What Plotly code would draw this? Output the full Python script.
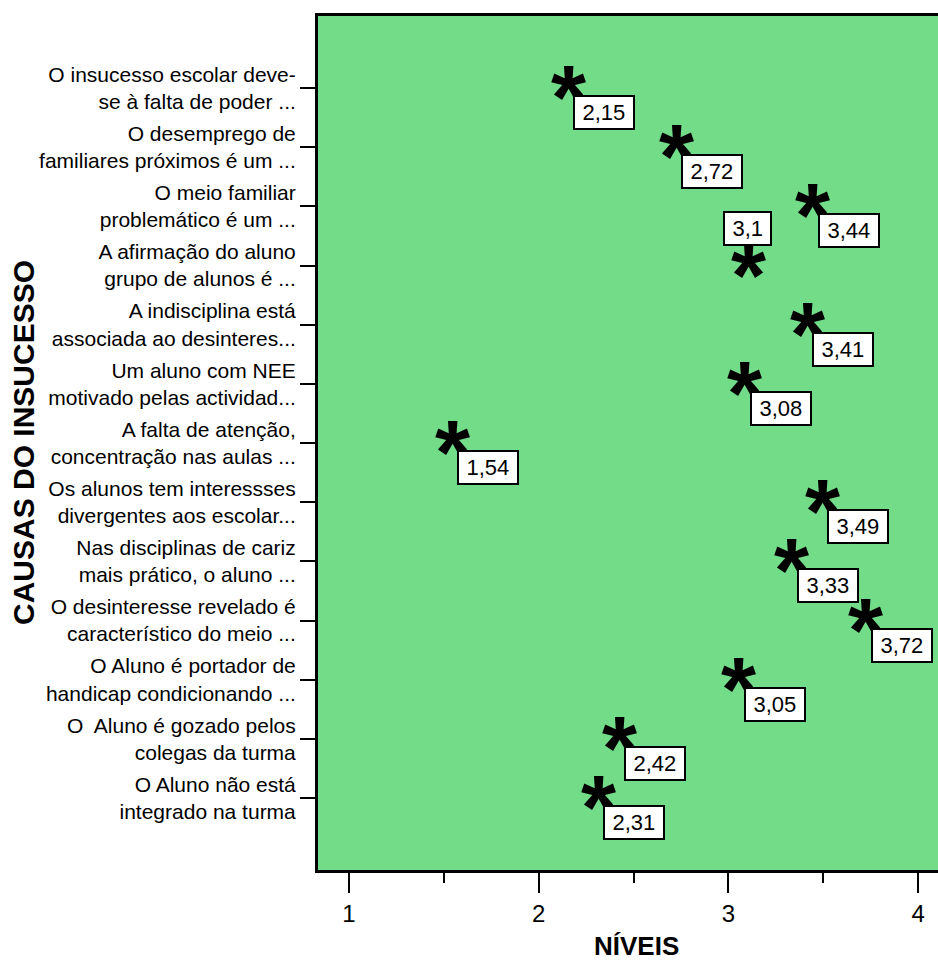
import plotly.graph_objects as go

categories = [
    "O insucesso escolar deve-<br>se à falta de poder ...",
    "O desemprego de<br>familiares próximos é um ...",
    "O meio familiar<br>problemático é um ...",
    "A afirmação do aluno<br>grupo de alunos é ...",
    "A indisciplina está<br>associada ao desinteres...",
    "Um aluno com NEE<br>motivado pelas actividad...",
    "A falta de atenção,<br>concentração nas aulas ...",
    "Os alunos tem interessses<br>divergentes aos escolar...",
    "Nas disciplinas de cariz<br>mais prático, o aluno ...",
    "O desinteresse revelado é<br>característico do meio ...",
    "O Aluno é portador de<br>handicap condicionando ...",
    "O\u00a0 Aluno é gozado pelos<br>colegas da turma",
    "O Aluno não está<br>integrado na turma",
]
values = [2.15, 2.72, 3.44, 3.10, 3.41, 3.08, 1.54, 3.49, 3.33, 3.72, 3.05, 2.42, 2.31]
value_labels = ["2,15", "2,72", "3,44", "3,1", "3,41", "3,08", "1,54", "3,49", "3,33", "3,72", "3,05", "2,42", "2,31"]
label_placement = ["below", "below", "below", "above", "below", "below", "below",
                   "below", "below", "below", "below", "below", "below"]
x_tick_vals = [1, 2, 3, 4]
x_tick_labels = ["1", "2", "3", "4"]

rows = list(range(len(categories)))
GREEN = "rgb(114,220,137)"
FONT = "Liberation Sans, Arial, sans-serif"

fig = go.Figure()
fig.add_trace(go.Scatter(
    x=values, y=rows, mode="markers",
    marker=dict(size=1, opacity=0),
    hoverinfo="skip", showlegend=False,
))

for v, r, lab, place in zip(values, rows, value_labels, label_placement):
    # asterisk marker
    fig.add_annotation(
        x=v, y=r, xref="x", yref="y", text="<b>*</b>", showarrow=False,
        font=dict(family=FONT, size=90, color="black"),
        xanchor="center", yanchor="middle", yshift=-10, xshift=1,
    )
    pad = "\u2009"
    if place == "above":
        fig.add_annotation(
            x=v, y=r, xref="x", yref="y", text=pad + lab + pad, showarrow=False,
            font=dict(family=FONT, size=22, color="black"),
            bgcolor="white", bordercolor="black", borderwidth=2, borderpad=3,
            xanchor="center", yanchor="bottom", yshift=20,
        )
    else:
        fig.add_annotation(
            x=v, y=r, xref="x", yref="y", text=pad + lab + pad, showarrow=False,
            font=dict(family=FONT, size=22, color="black"),
            bgcolor="white", bordercolor="black", borderwidth=2, borderpad=3,
            xanchor="left", yanchor="top", xshift=6, yshift=-7,
        )

# axis titles
fig.add_annotation(
    x=0.5145, y=-0.0895, xref="paper", yref="paper", text="<b>NÍVEIS</b>",
    showarrow=False, font=dict(family=FONT, size=26, color="black"),
    xanchor="center", yanchor="middle",
)
fig.add_annotation(
    x=-0.4758, y=0.5, xref="paper", yref="paper", text="<b>CAUSAS DO INSUCESSO</b>",
    showarrow=False, font=dict(family=FONT, size=30, color="black"),
    textangle=-90, xanchor="center", yanchor="middle",
)

fig.update_layout(
    width=942, height=960,
    margin=dict(l=318, r=4, t=16, b=90),
    paper_bgcolor="white", plot_bgcolor=GREEN,
    showlegend=False,
    font=dict(family=FONT, color="black"),
    xaxis=dict(
        range=[0.837, 4.105],
        tickvals=x_tick_vals, ticktext=x_tick_labels,
        ticks="outside", ticklen=20, tickwidth=2, tickcolor="black",
        tickfont=dict(size=24, family=FONT, color="black"),
        minor=dict(dtick=0.5, tick0=0, ticks="outside", ticklen=10, tickwidth=2, tickcolor="black", showgrid=False),
        showline=True, linewidth=3, linecolor="black", mirror=True,
        showgrid=False, zeroline=False, automargin=False,
    ),
    yaxis=dict(
        range=[13.217, -1.217],
        tickvals=rows, ticktext=categories,
        ticks="outside", ticklen=15, tickwidth=2, tickcolor="black",
        tickfont=dict(size=21, family=FONT, color="black"),
        showline=True, linewidth=3, linecolor="black", mirror=False,
        showgrid=False, zeroline=False, automargin=False,
    ),
)

fig.write_html(
    "out.html",
    config={"displayModeBar": False},
    post_script="document.body.style.margin='0';document.body.style.overflow='hidden';",
)
